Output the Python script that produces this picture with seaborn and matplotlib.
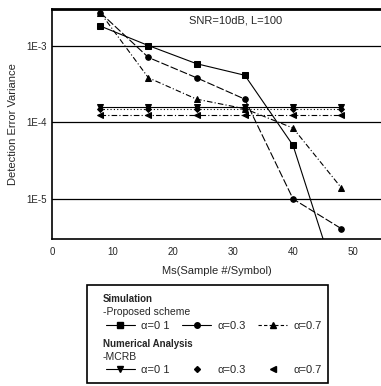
import numpy as np
import matplotlib.pyplot as plt
import seaborn as sns
from matplotlib.lines import Line2D
from matplotlib.patches import Rectangle
from matplotlib.ticker import FixedLocator, LogLocator, NullFormatter

# ---- data ----
ms = [8, 16, 24, 32, 40, 48]
sim_a01 = [1.8e-3, 1.0e-3, 5.8e-4, 4.1e-4, 5.0e-5, 5.5e-7]
sim_a03 = [2.7e-3, 7.0e-4, 3.8e-4, 2.0e-4, 1.0e-5, 4.1e-6]
sim_a07 = [2.7e-3, 3.8e-4, 2.0e-4, 1.5e-4, 8.4e-5, 1.4e-5]
mcrb_a01 = [1.6e-4, 1.6e-4, 1.6e-4, 1.6e-4, 1.6e-4, 1.6e-4]
mcrb_a03 = [1.5e-4, 1.5e-4, 1.5e-4, 1.5e-4, 1.5e-4, 1.5e-4]
mcrb_a07 = [1.23e-4, 1.23e-4, 1.23e-4, 1.23e-4, 1.23e-4, 1.23e-4]
alpha_labels = ['\u03b1=0 1', '\u03b1=0.3', '\u03b1=0.7']

sns.set_style('white')
plt.rcParams['font.family'] = ['Liberation Sans', 'DejaVu Sans']

fig = plt.figure(figsize=(3.81, 3.86), dpi=100)
ax = fig.add_axes([52 / 381, 1 - 239 / 386, 1 - 52 / 381, 230 / 386])

kw = dict(color='black', lw=0.8, markersize=4, markeredgecolor='black', ax=ax, legend=False)
sns.lineplot(x=ms, y=sim_a01, marker='s', linestyle='-', **kw)
sns.lineplot(x=ms, y=sim_a03, marker='o', **kw)
ax.lines[-1].set_linestyle((0, (7, 2)))
sns.lineplot(x=ms, y=sim_a07, marker='^', **kw)
ax.lines[-1].set_linestyle((0, (5, 2, 1, 2)))
sns.lineplot(x=ms, y=mcrb_a01, marker='v', linestyle='-', **kw)
sns.lineplot(x=ms, y=mcrb_a03, marker='D', **kw)
ax.lines[-1].set_linestyle((0, (1, 2)))
ax.lines[-1].set_markersize(3)
sns.lineplot(x=ms, y=mcrb_a07, marker='<', **kw)
ax.lines[-1].set_linestyle((0, (5, 2, 1, 2)))

ax.set_yscale('log')
ax.set_xlim(0, 54.6)
ax.set_ylim(3e-6, 3e-3)
ax.set_xticks([0, 10, 20, 30, 40, 50])
ax.xaxis.set_minor_locator(FixedLocator([5, 15, 25, 35, 45]))
ax.set_yticks([1e-5, 1e-4, 1e-3])
ax.set_yticklabels(['1E-5', '1E-4', '1E-3'])
ax.yaxis.set_minor_locator(LogLocator(base=10, subs=np.arange(2, 10)))
ax.yaxis.set_minor_formatter(NullFormatter())
ax.tick_params(axis='both', which='both', direction='in', labelsize=7, color='black')
ax.tick_params(which='major', length=4, width=1)
ax.tick_params(which='minor', length=2, width=0.8)
ax.tick_params(axis='x', pad=6)
ax.grid(axis='y', which='major', color='black', lw=0.9)
for s in ['left', 'bottom']:
    ax.spines[s].set_linewidth(1.2)
    ax.spines[s].set_color('black')
ax.spines['top'].set_linewidth(2)
ax.spines['top'].set_color('black')
ax.spines['right'].set_visible(False)

ax.set_xlabel('Ms(Sample #/Symbol)', fontsize=8, labelpad=6)
ax.set_ylabel('Detection Error Variance', fontsize=8, labelpad=6)
ax.text(0.70, 0.948, 'SNR=10dB, L=100', transform=ax.transAxes, ha='right', va='center', fontsize=8)

# ---- legend box ----
lax = fig.add_axes([87 / 381, 3 / 386, 241 / 381, 98 / 386])
lax.set_xlim(0, 1)
lax.set_ylim(0, 1)
lax.axis('off')
lax.add_patch(Rectangle((0, 0), 1, 1, fill=False, lw=1.2, edgecolor='black', clip_on=False))
lax.text(0.065, 0.86, 'Simulation', fontsize=7, fontweight='bold', va='center')
lax.text(0.065, 0.72, '-Proposed scheme', fontsize=7.5, va='center')
lax.text(0.065, 0.40, 'Numerical Analysis', fontsize=7, fontweight='bold', va='center')
lax.text(0.065, 0.265, '-MCRB', fontsize=7.5, va='center')

def h(marker, ls, ms=4):
    return Line2D([], [], color='black', marker=marker, linestyle=ls, lw=0.8, markersize=ms)

sim_handles = [h('s', '-'), h('o', '-'), h('^', (0, (3, 2)))]
mcrb_handles = [h('v', '-'), h('D', 'none', 3), h('<', 'none')]
leg_kw = dict(ncol=3, frameon=False, fontsize=8, handlelength=2.6, handletextpad=0.6,
              columnspacing=1.1, borderaxespad=0, loc='center left')
l1 = lax.legend(sim_handles, alpha_labels, bbox_to_anchor=(0.06, 0.58), **leg_kw)
lax.add_artist(l1)
lax.legend(mcrb_handles, alpha_labels, bbox_to_anchor=(0.06, 0.13), **leg_kw)

fig.savefig('out.png', dpi=100)
